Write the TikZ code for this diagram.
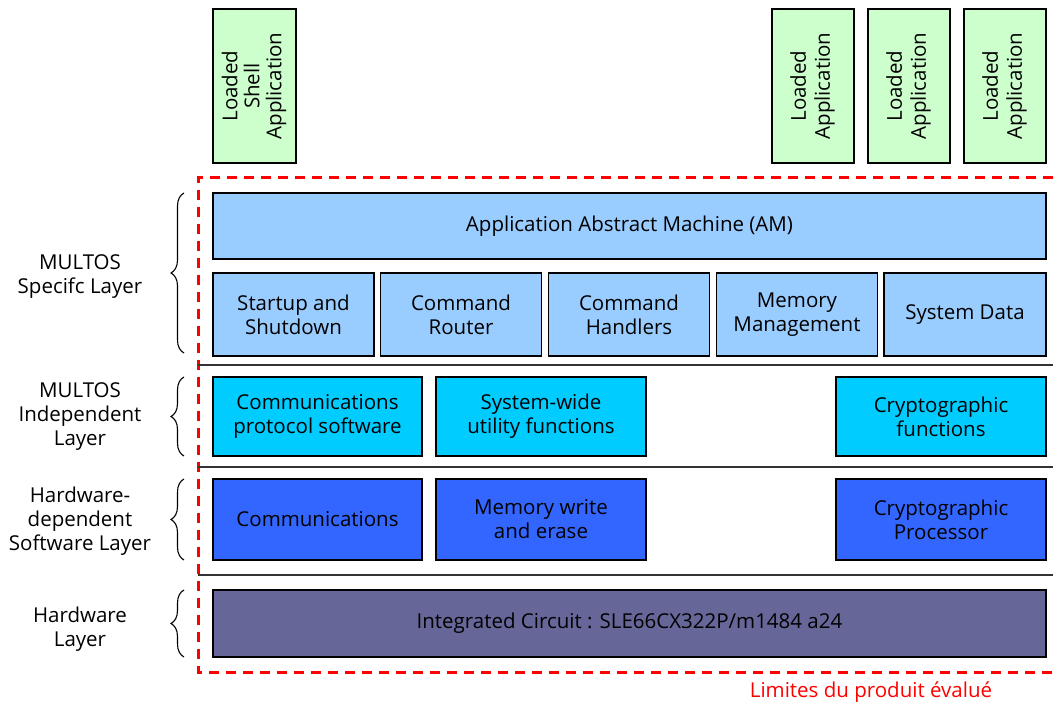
\documentclass[tikz,border=0pt]{standalone}
\usepackage{fontspec}
\setmainfont{Open Sans}
\usetikzlibrary{decorations.pathreplacing}
\definecolor{amblue}{HTML}{99CCFF}
\definecolor{indcyan}{HTML}{00CCFF}
\definecolor{hwblue}{HTML}{3366FF}
\definecolor{hwpurple}{HTML}{666699}
\definecolor{appgreen}{HTML}{CCFFCC}
\definecolor{limred}{HTML}{FF0000}
\tikzset{
  box/.style={draw=black, line width=1.3pt, inner sep=0pt, align=center, text=black,
    font=\fontsize{20.5}{24}\selectfont},
  appbox/.style={box, fill=appgreen, minimum height=154pt},
  lbl/.style={align=center, font=\fontsize{20.5}{24}\selectfont, text=black},
  sep/.style={draw=black!80, line width=1.3pt},
  lbrace/.style={decorate, decoration={brace, amplitude=13pt}, line width=1.1pt, draw=black},
}
\begin{document}
\begin{tikzpicture}[x=1pt,y=-1pt]
\useasboundingbox (0,0) rectangle (1053,703);
% loaded applications
\node[appbox, minimum width=83pt] (shell) at (254.5,86) {\rotatebox{90}{\begin{tabular}{@{}c@{}}Loaded\\[-2pt]Shell\\[-2pt]Application\end{tabular}}};
\node[appbox, minimum width=82pt] (app1) at (813,86) {\rotatebox{90}{\begin{tabular}{@{}c@{}}Loaded\\Application\end{tabular}}};
\node[appbox, minimum width=82pt] (app2) at (909,86) {\rotatebox{90}{\begin{tabular}{@{}c@{}}Loaded\\Application\end{tabular}}};
\node[appbox, minimum width=82pt] (app3) at (1005,86) {\rotatebox{90}{\begin{tabular}{@{}c@{}}Loaded\\Application\end{tabular}}};
% boundary
\draw[limred, line width=3pt, dash pattern=on 10pt off 7pt] (1053,178) -- (198,178) -- (198,672) -- (1053,672);
% separators
\coordinate (s1a) at (198,365); \coordinate (s1b) at (1053,365);
\coordinate (s2a) at (198,467); \coordinate (s2b) at (1053,467);
\coordinate (s3a) at (198,575); \coordinate (s3b) at (1053,575);
\draw[sep] (s1a) -- (s1b);
\draw[sep] (s2a) -- (s2b);
\draw[sep] (s3a) -- (s3b);
% MULTOS specific layer
\node[box, fill=amblue, minimum width=833pt, minimum height=66pt] (am) at (629.5,226) {Application Abstract Machine (AM)};
\node[box, fill=amblue, minimum width=161pt, minimum height=83pt] (startup) at (293.5,314.5) {Startup and\\Shutdown};
\node[box, fill=amblue, minimum width=161pt, minimum height=83pt] (router) at (461,314.5) {Command\\Router};
\node[box, fill=amblue, minimum width=161pt, minimum height=83pt] (handlers) at (629,314.5) {Command\\Handlers};
\node[box, fill=amblue, minimum width=161pt, minimum height=83pt] (memmgmt) at (797,314.5) {Memory\\Management};
\node[box, fill=amblue, minimum width=162pt, minimum height=83pt] (sysdata) at (965,314.5) {System Data};
% MULTOS independent layer
\node[box, fill=indcyan, minimum width=209pt, minimum height=79pt] (commsw) at (317.5,416.5) {Communications\\protocol software};
\node[box, fill=indcyan, minimum width=210pt, minimum height=79pt] (utility) at (541,416.5) {System-wide\\utility functions};
\node[box, fill=indcyan, minimum width=210pt, minimum height=79pt] (cryptofn) at (941,416.5) {Cryptographic\\functions};
% hardware dependent software layer
\node[box, fill=hwblue, minimum width=209pt, minimum height=81pt] (comm) at (317.5,519.5) {Communications};
\node[box, fill=hwblue, minimum width=210pt, minimum height=81pt] (memwrite) at (541,519.5) {Memory write\\and erase};
\node[box, fill=hwblue, minimum width=210pt, minimum height=81pt] (cryptoproc) at (941,519.5) {Cryptographic\\Processor};
% hardware layer
\node[box, fill=hwpurple, minimum width=833pt, minimum height=67pt] (ic) at (629.5,623.5) {Integrated Circuit : SLE66CX322P/m1484 a24};
% braces
\coordinate (b1t) at (184,193); \coordinate (b1b) at (184,353);
\coordinate (b2t) at (184,377); \coordinate (b2b) at (184,456);
\coordinate (b3t) at (184,479); \coordinate (b3b) at (184,560);
\coordinate (b4t) at (184,590); \coordinate (b4b) at (184,657);
\draw[lbrace] (b1b) -- (b1t);
\draw[lbrace] (b2b) -- (b2t);
\draw[lbrace] (b3b) -- (b3t);
\draw[lbrace] (b4b) -- (b4t);
% layer labels
\node[lbl] (l1) at (80,277) {MULTOS\\Specifc Layer};
\node[lbl] (l2) at (80,417) {MULTOS\\Independent\\Layer};
\node[lbl] (l3) at (80,521) {Hardware-\\dependent\\Software Layer};
\node[lbl] (l4) at (80,629) {Hardware\\Layer};
% boundary label
\node[lbl, text=limred] (lim) at (871,692) {Limites du produit évalué};
\end{tikzpicture}
\end{document}
